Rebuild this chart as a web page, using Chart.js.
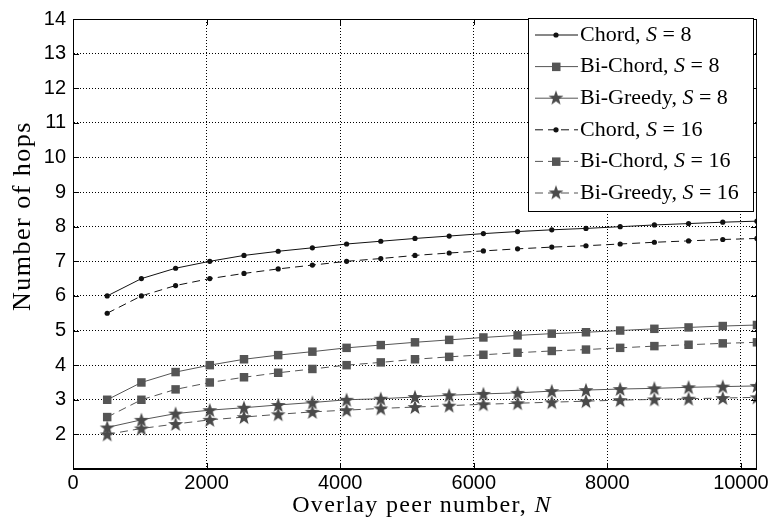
<!DOCTYPE html>
<html>
<head>
<meta charset="utf-8">
<script src="https://cdn.jsdelivr.net/npm/chart.js@4/dist/chart.umd.min.js"></script>
<style>
  body { margin: 0; background: #fff; }
  #myChart { display: block; }
</style>
</head>
<body>
<canvas id="myChart" width="771" height="524"></canvas>
<script>
// overlay sizes N
const peers = [512, 1024, 1536, 2048, 2560, 3072, 3584, 4096, 4608, 5120,
               5632, 6144, 6656, 7168, 7680, 8192, 8704, 9216, 9728, 10240];

const chordS8 = [6.0, 6.5, 6.8, 7.0, 7.17, 7.29, 7.39, 7.5, 7.58, 7.66,
                 7.73, 7.8, 7.86, 7.91, 7.95, 8.0, 8.05, 8.09, 8.13, 8.16];
const biChordS8 = [3.0, 3.5, 3.8, 4.0, 4.17, 4.29, 4.39, 4.5, 4.58, 4.66,
                   4.73, 4.8, 4.86, 4.91, 4.95, 5.0, 5.05, 5.09, 5.13, 5.16];
const biGreedyS8 = [2.2, 2.42, 2.6, 2.7, 2.77, 2.85, 2.92, 3.0, 3.03, 3.08,
                    3.13, 3.17, 3.2, 3.25, 3.28, 3.31, 3.33, 3.36, 3.38, 3.4];
const chordS16 = [5.5, 6.0, 6.3, 6.5, 6.65, 6.78, 6.89, 7.0, 7.08, 7.17,
                  7.24, 7.3, 7.36, 7.41, 7.45, 7.5, 7.55, 7.59, 7.63, 7.66];
const biChordS16 = [2.5, 3.0, 3.3, 3.5, 3.65, 3.78, 3.89, 4.0, 4.08, 4.17,
                    4.24, 4.3, 4.36, 4.41, 4.45, 4.5, 4.55, 4.59, 4.63, 4.66];
const biGreedyS16 = [2.0, 2.17, 2.3, 2.42, 2.5, 2.58, 2.65, 2.7, 2.75, 2.79,
                     2.83, 2.87, 2.9, 2.93, 2.96, 2.99, 3.01, 3.03, 3.05, 3.07];

const seriesNames = ['Chord', 'Bi-Chord', 'Bi-Greedy', 'Chord', 'Bi-Chord', 'Bi-Greedy'];
const seriesS = ['8', '8', '8', '16', '16', '16'];

const xTicks = [0, 2000, 4000, 6000, 8000, 10000];
const yTicks = [2, 3, 4, 5, 6, 7, 8, 9, 10, 11, 12, 13, 14];

const serif = "'Liberation Serif', 'DejaVu Serif', serif";
const sans = "'Liberation Sans', Arial, sans-serif";

// filled five point star used as marker
function makeStar(color) {
    const c = document.createElement('canvas');
    c.width = 16; c.height = 16;
    const g = c.getContext('2d');
    g.fillStyle = color;
    g.beginPath();
    for (let i = 0; i < 10; i++) {
        const r = i % 2 === 0 ? 7.8 : 3.2;
        const a = -Math.PI / 2 + i * Math.PI / 5;
        const px = 8 + r * Math.cos(a), py = 8.6 + r * Math.sin(a);
        if (i === 0) g.moveTo(px, py); else g.lineTo(px, py);
    }
    g.closePath();
    g.fill();
    return c;
}
const starImg = makeStar('#4a4a4a');

function pts(arr) {
    return arr.map((v, i) => ({ x: peers[i], y: v }));
}

function makeDataset(i, values) {
    const kind = i % 3;
    const dashed = i >= 3;
    const base = {
        label: seriesNames[i] + ', S = ' + seriesS[i],
        data: pts(values),
        borderWidth: 1,
        borderDash: dashed ? [8, 5] : [],
        fill: false,
        tension: 0
    };
    if (kind === 0) {
        return Object.assign(base, { borderColor: '#111', backgroundColor: '#111',
            pointStyle: 'circle', pointRadius: 2.6, pointBorderWidth: 0 });
    } else if (kind === 1) {
        return Object.assign(base, { borderColor: '#555', backgroundColor: '#555',
            pointStyle: 'rect', pointRadius: 6, pointBorderWidth: 0 });
    }
    return Object.assign(base, { borderColor: '#555', backgroundColor: '#4a4a4a',
        pointStyle: starImg, pointRadius: 7 });
}

const allSeries = [chordS8, biChordS8, biGreedyS8, chordS16, biChordS16, biGreedyS16];

// frame, inward ticks, axis titles and the legend box
const matlabPlugin = {
    id: 'matlab',
    afterDraw(chart) {
        const c = chart.ctx;
        const a = chart.chartArea;
        const xs = chart.scales.x, ys = chart.scales.y;
        c.save();
        c.strokeStyle = '#000';
        c.lineWidth = 1;
        c.setLineDash([]);
        c.strokeRect(a.left + 0.5, a.top + 0.5, a.right - a.left - 1, a.bottom - a.top - 1);
        c.beginPath();
        xTicks.forEach(t => {
            const px = Math.round(xs.getPixelForValue(t)) + 0.5;
            c.moveTo(px, a.bottom); c.lineTo(px, a.bottom - 6);
            c.moveTo(px, a.top); c.lineTo(px, a.top + 6);
        });
        yTicks.forEach(t => {
            const py = Math.round(ys.getPixelForValue(t)) + 0.5;
            c.moveTo(a.left, py); c.lineTo(a.left + 6, py);
            c.moveTo(a.right, py); c.lineTo(a.right - 6, py);
        });
        c.stroke();

        // x title with italic N
        c.fillStyle = '#000';
        c.textBaseline = 'alphabetic';
        c.letterSpacing = '1.3px';
        const part1 = 'Overlay peer number, ';
        c.font = '24px ' + serif;
        const w1 = c.measureText(part1).width;
        c.font = 'italic 24px ' + serif;
        const w2 = c.measureText('N').width;
        let tx = 422 - (w1 + w2) / 2;
        c.font = '24px ' + serif;
        c.fillText(part1, tx, 512);
        c.font = 'italic 24px ' + serif;
        c.fillText('N', tx + w1, 512);

        // y title
        c.save();
        c.translate(30, 216);
        c.rotate(-Math.PI / 2);
        c.letterSpacing = '1.5px';
        c.font = '26px ' + serif;
        c.textAlign = 'center';
        c.fillText('Number of hops', 0, 0);
        c.restore();
        c.letterSpacing = '0px';

        // legend
        const bx = 528, by = 18, bw = 225, bh = 193;
        c.fillStyle = '#fff';
        c.fillRect(bx, by, bw, bh);
        c.strokeStyle = '#000';
        c.strokeRect(bx + 0.5, by + 0.5, bw, bh);
        chart.data.datasets.forEach((ds, i) => {
            const ry = by + 17 + i * 31.6;
            c.strokeStyle = ds.borderColor;
            c.lineWidth = 1;
            c.setLineDash(ds.borderDash);
            c.beginPath();
            c.moveTo(535, ry); c.lineTo(578, ry);
            c.stroke();
            c.setLineDash([]);
            c.fillStyle = ds.backgroundColor;
            if (ds.pointStyle === 'circle') {
                c.beginPath(); c.arc(556, ry, 2.6, 0, Math.PI * 2); c.fill();
            } else if (ds.pointStyle === 'rect') {
                c.fillRect(552, ry - 4, 8.5, 8.5);
            } else {
                c.drawImage(starImg, 548, ry - 8.6);
            }
            c.fillStyle = '#000';
            c.textBaseline = 'middle';
            const name = seriesNames[i] + ', ';
            c.font = '22px ' + serif;
            let lx = 580;
            c.fillText(name, lx, ry);
            lx += c.measureText(name).width;
            c.font = 'italic 22px ' + serif;
            c.fillText('S', lx, ry);
            lx += c.measureText('S').width;
            c.font = '22px ' + serif;
            c.fillText(' = ' + seriesS[i], lx, ry);
        });
        c.restore();
    }
};

const ctx = document.getElementById('myChart').getContext('2d');
const lineChart = new Chart(ctx, {
    type: 'line',
    data: {
        datasets: allSeries.map((v, i) => makeDataset(i, v))
    },
    options: {
        responsive: false,
        animation: false,
        devicePixelRatio: 1,
        layout: { padding: { top: 14, right: 11, left: 0, bottom: 0 } },
        plugins: {
            legend: { display: false },
            tooltip: { enabled: false }
        },
        scales: {
            x: {
                type: 'linear',
                min: 0,
                max: 10240,
                afterBuildTicks: s => { s.ticks = xTicks.map(v => ({ value: v })); },
                afterFit: s => { s.height = 55; },
                ticks: { color: '#000', font: { family: sans, size: 20 }, padding: 2, maxRotation: 0,
                         callback: v => String(v) },
                grid: { color: '#000', lineWidth: 1, drawTicks: false },
                border: { display: true, color: '#000', dash: [1, 2] }
            },
            y: {
                min: 1,
                max: 14,
                afterBuildTicks: s => { s.ticks = yTicks.map(v => ({ value: v })); },
                afterFit: s => { s.width = 73; },
                ticks: { color: '#000', font: { family: sans, size: 20 }, padding: 7,
                         callback: v => String(v) },
                grid: { color: '#000', lineWidth: 1, drawTicks: false },
                border: { display: true, color: '#000', dash: [1, 2] }
            }
        }
    },
    plugins: [matlabPlugin]
});
</script>
</body>
</html>
